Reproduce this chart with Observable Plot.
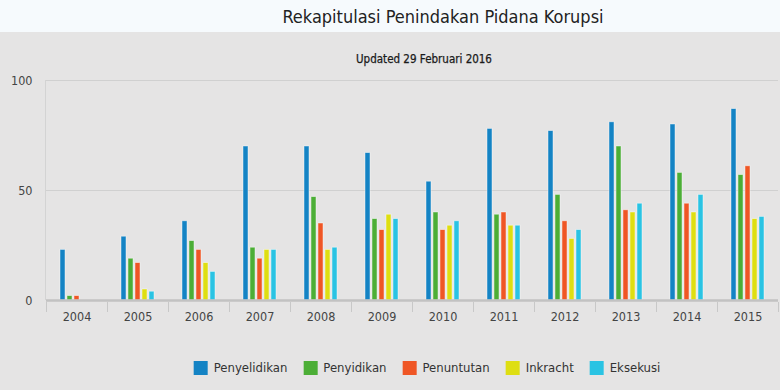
<!DOCTYPE html>
<html>
<head>
<meta charset="utf-8">
<script src="https://cdn.jsdelivr.net/npm/d3@7"></script>
<script src="https://cdn.jsdelivr.net/npm/@observablehq/plot@0.6"></script>
<style>
  html, body { margin: 0; padding: 0; }
  body { width: 780px; height: 390px; overflow: hidden; position: relative;
         font-family: "DejaVu Sans", sans-serif; font-stretch: condensed; color: #333; }
  #top { position: absolute; left: 0; top: 0; width: 780px; height: 32px; background: #f6fafd; }
  #panel { position: absolute; left: 0; top: 32px; width: 780px; height: 358px; background: #e5e4e4; }
  #title { position: absolute; left: 443px; top: 6px; transform: translateX(-50%); white-space: nowrap;
           font-size: 18px; color: #222; }
  #subtitle { position: absolute; left: 424px; top: 52px; transform: translateX(-50%); white-space: nowrap;
              font-size: 11.5px; color: #1a1a1a; -webkit-text-stroke: 0.25px #1a1a1a; }
  #chart { position: absolute; left: 0; top: 70px; }
  #legend { position: absolute; left: 427px; top: 360px; transform: translateX(-50%); display: flex;
            white-space: nowrap; font-size: 13px; color: #333; }
  .item { display: flex; align-items: center; margin: 0 8px; }
  .sw { width: 14px; height: 14px; margin-right: 6px; }
</style>
</head>
<body>
<div id="top"></div>
<div id="panel"></div>
<div id="title">Rekapitulasi Penindakan Pidana Korupsi</div>
<div id="subtitle">Updated 29 Februari 2016</div>
<div id="chart"></div>
<div id="legend"></div>
<script>
const years = ["2004","2005","2006","2007","2008","2009","2010","2011","2012","2013","2014","2015"];
const series = ["Penyelidikan","Penyidikan","Penuntutan","Inkracht","Eksekusi"];
const colors = ["#1483c4","#4cae36","#ef5625","#dede12","#2ac3e3"];
const penyelidikan = [23,29,36,70,70,67,54,78,77,81,80,87];
const penyidikan   = [2,19,27,24,47,37,40,39,48,70,58,57];
const penuntutan   = [2,17,23,19,35,32,32,40,36,41,44,61];
const inkracht     = [0,5,17,23,23,39,34,34,28,40,40,37];
const eksekusi     = [0,4,13,23,24,37,36,34,32,44,48,38];
const yTicks = [0,50,100];

const values = [penyelidikan, penyidikan, penuntutan, inkracht, eksekusi];
const data = years.flatMap((yr, i) => series.map((s, j) => ({year: yr, series: s, value: values[j][i]})));

const chart = Plot.plot({
  width: 780, height: 260,
  marginLeft: 44, marginRight: 1, marginTop: 10, marginBottom: 30,
  style: {background: "transparent", fontFamily: "DejaVu Sans", fontSize: "12.5px", color: "#444", fontStretch: "condensed"},
  fx: {domain: years, padding: 0, axis: "bottom", label: null, tickSize: 0, tickPadding: 12},
  x: {domain: series, paddingInner: 0.28, paddingOuter: 1.8, axis: null},
  y: {domain: [0, 100], ticks: yTicks, label: null, tickSize: 0, tickPadding: 14},
  color: {domain: series, range: colors},
  marks: [
    Plot.ruleY([50, 100], {stroke: "#d0d0d0", strokeWidth: 1}),
    Plot.barY(data, {fx: "year", x: "series", y: "value", fill: "series",
                     stroke: "#ffffff", strokeOpacity: 0.55, strokeWidth: 0.8}),
    Plot.ruleY([0], {stroke: "#c2c2c2", strokeWidth: 2.5})
  ]
});
document.getElementById("chart").appendChild(chart);

// category separators using the library's scales
const fx = chart.scale("fx"), ys = chart.scale("y");
const svg = d3.select(chart);
const y0 = ys.apply(0), y100 = ys.apply(100);
const edges = years.map(yr => fx.apply(yr)).concat([fx.apply(years[years.length - 1]) + fx.step]);
svg.append("g").selectAll("line").data(edges).join("line")
  .attr("x1", d => d + 0.5).attr("x2", d => d + 0.5)
  .attr("y1", y0 + 2).attr("y2", y0 + 12)
  .attr("stroke", "#c8c8c8").attr("stroke-width", 1);
svg.append("line").attr("x1", edges[0] - 0.5).attr("x2", edges[0] - 0.5)
  .attr("y1", y100).attr("y2", y0).attr("stroke", "#d3d3d3");

// legend
const legend = d3.select("#legend");
series.forEach((s, i) => {
  const it = legend.append("div").attr("class", "item");
  it.append("div").attr("class", "sw").style("background", colors[i]);
  it.append("span").text(s);
});
</script>
</body>
</html>
